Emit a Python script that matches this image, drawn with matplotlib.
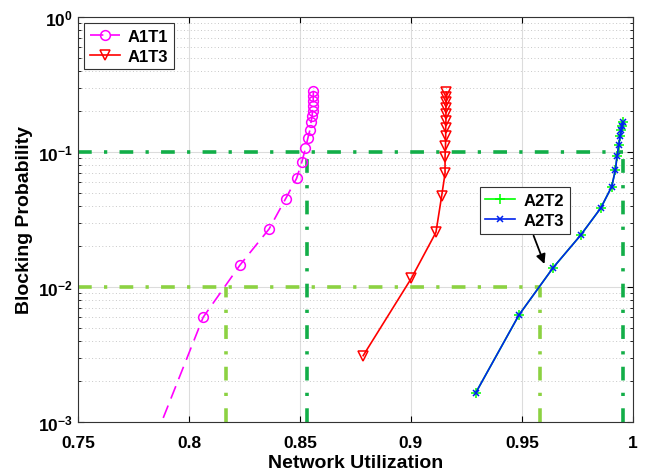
import matplotlib.pyplot as plt
from matplotlib.ticker import FixedLocator, LogLocator, NullFormatter

plt.rcParams['font.family'] = ['Liberation Sans', 'DejaVu Sans']
plt.rcParams['font.weight'] = 'bold'
plt.rcParams['mathtext.fontset'] = 'custom'
plt.rcParams['mathtext.bf'] = 'Liberation Sans:bold'
plt.rcParams['mathtext.rm'] = 'Liberation Sans:bold'

# A1T1 (dashed, circles)
a1t1_x = [0.778, 0.8064, 0.823, 0.8361, 0.8435, 0.8485, 0.8509, 0.8525, 0.8536,
          0.8545, 0.8550, 0.8555, 0.8557, 0.8558, 0.8560, 0.8560, 0.8561]
a1t1_y = [0.000398, 0.00597, 0.01455, 0.0269, 0.0449, 0.0638, 0.0848, 0.1065, 0.127,
          0.1456, 0.166, 0.186, 0.202, 0.220, 0.240, 0.261, 0.284]

# A1T3 (solid, down triangles)
a1t3_x = [0.8785, 0.9002, 0.9113, 0.9139, 0.9154, 0.9154, 0.9156, 0.9157, 0.9157,
          0.9158, 0.9158, 0.9158, 0.9159, 0.9159, 0.9159]
a1t3_y = [0.0031, 0.01159, 0.0254, 0.0475, 0.0695, 0.0914, 0.110, 0.132, 0.151,
          0.171, 0.191, 0.211, 0.233, 0.254, 0.277]

# A2T2 / A2T3 (same points)
a2_x = [0.9292, 0.9487, 0.9640, 0.9766, 0.9856, 0.9905, 0.9922, 0.9929, 0.9937,
        0.9943, 0.9949, 0.9952, 0.9955]
a2_y = [0.00164, 0.0062, 0.01383, 0.0243, 0.0385, 0.0553, 0.0740, 0.0929, 0.1127,
        0.1307, 0.1463, 0.1566, 0.166]

# reference levels
level_hi = 0.1
level_lo = 0.01
hi_cross = [0.853, 0.9958]
lo_cross = [0.8165, 0.9584]

dark_green = '#12AE48'
light_green = '#8CD242'
dashdot = (0, (3.8, 3.4, 0.9, 3.4))

fig = plt.figure(figsize=(6.47, 4.77), dpi=100)
ax = fig.add_axes([0.1206, 0.1132, 0.8574, 0.8491])

ax.plot([0.75, hi_cross[1]], [level_hi, level_hi], color=dark_green, lw=2.6, ls=dashdot)
for xc in hi_cross:
    ax.plot([xc, xc], [1e-3, level_hi], color=dark_green, lw=2.6, ls=dashdot)
ax.plot([0.75, lo_cross[1]], [level_lo, level_lo], color=light_green, lw=2.6, ls=dashdot)
for xc in lo_cross:
    ax.plot([xc, xc], [1e-3, level_lo], color=light_green, lw=2.6, ls=dashdot)

l1, = ax.plot(a1t1_x, a1t1_y, color='#FF00FF', ls=(0, (8, 4.5)), lw=1.2, marker='o',
              ms=7, mfc='none', mew=1.1, label='A1T1')
l2, = ax.plot(a1t3_x, a1t3_y, color='#FF0000', ls='-', lw=1.2, marker='v',
              ms=7, mfc='none', mew=1.1, label='A1T3')
l3, = ax.plot(a2_x, a2_y, color='#00FF00', ls='-', lw=1.2, marker='+',
              ms=7, mew=1.1, label='A2T2')
l4, = ax.plot(a2_x, a2_y, color='#0022EE', ls='-', lw=1.2, marker='x',
              ms=5, mew=1.1, label='A2T3')

ax.annotate('', xy=(0.9602, 0.0148), xytext=(0.9553, 0.024),
            arrowprops=dict(arrowstyle='-|>', color='black', lw=1.3,
                            mutation_scale=14, shrinkA=0, shrinkB=0))

ax.set_yscale('log')
ax.set_xlim(0.75, 1.0)
ax.set_ylim(1e-3, 1)
ax.xaxis.set_major_locator(FixedLocator([0.75, 0.8, 0.85, 0.9, 0.95, 1.0]))
ax.set_xticklabels(['0.75', '0.8', '0.85', '0.9', '0.95', '1'])
ax.yaxis.set_major_locator(FixedLocator([1e-3, 1e-2, 1e-1, 1]))
ax.set_yticklabels([r'$\mathbf{10^{-3}}$', r'$\mathbf{10^{-2}}$',
                    r'$\mathbf{10^{-1}}$', r'$\mathbf{10^{0}}$'])
ax.yaxis.set_minor_locator(LogLocator(base=10, subs=range(2, 10)))
ax.yaxis.set_minor_formatter(NullFormatter())
ax.tick_params(which='both', direction='in', top=True, right=True, labelsize=12.5)
ax.tick_params(which='major', length=4, width=0.8)
ax.tick_params(which='minor', length=2.5, width=0.6)
ax.tick_params(axis='x', pad=9)

ax.grid(True, which='major', color='#dcdcdc', lw=0.8, ls='-')
ax.grid(True, which='minor', axis='y', color='#c8c8c8', lw=0.7, ls=(0, (1, 2.5)))
ax.set_axisbelow(True)
for s in ax.spines.values():
    s.set_color('#333333')
    s.set_linewidth(0.8)

ax.set_xlabel('Network Utilization', fontsize=14, fontweight='bold', labelpad=3)
ax.set_ylabel('Blocking Probability', fontsize=14, fontweight='bold', labelpad=4)

leg1 = ax.legend(handles=[l1, l2], loc='upper left', fancybox=False, edgecolor='#333333',
                 framealpha=1, fontsize=12, handlelength=1.8, handletextpad=0.5,
                 borderaxespad=0.35, labelspacing=0.3, borderpad=0.35)
leg1.get_frame().set_linewidth(0.8)
ax.add_artist(leg1)
leg2 = ax.legend(handles=[l3, l4], loc='upper left', bbox_to_anchor=(0.724, 0.58),
                 fancybox=False, edgecolor='#333333', framealpha=1, fontsize=12,
                 handlelength=1.8, handletextpad=0.5, borderaxespad=0,
                 labelspacing=0.3, borderpad=0.35)
leg2.get_frame().set_linewidth(0.8)

plt.savefig('out.png', dpi=100)
